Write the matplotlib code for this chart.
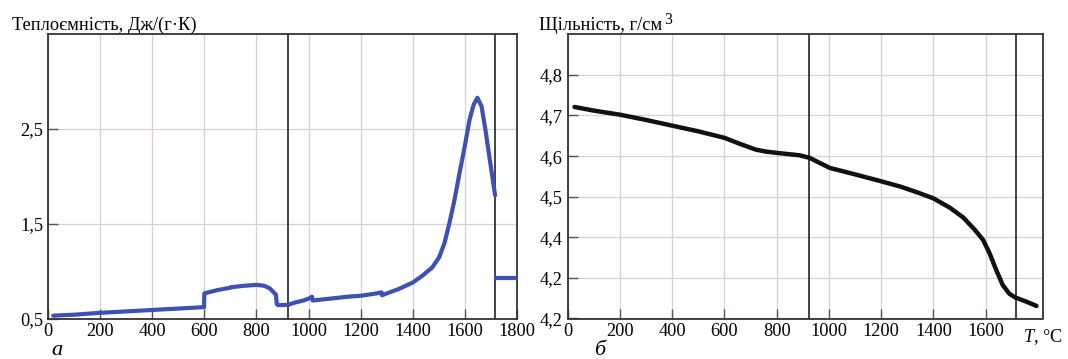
import matplotlib
matplotlib.use("Agg")
import matplotlib.pyplot as plt

plt.rcParams['font.family'] = ['Liberation Serif', 'DejaVu Serif']
plt.rcParams['mathtext.fontset'] = 'custom'
plt.rcParams['mathtext.rm'] = 'Liberation Serif'
plt.rcParams['mathtext.it'] = 'Liberation Serif:italic'

# ---- data: heat capacity (left panel) ----
cp_T = [20, 100, 200, 300, 400, 500, 599, 600, 650, 700, 702, 750, 800, 830, 850,
        865, 875, 878, 885, 922, 950, 980, 1005, 1013, 1016, 1050, 1100, 1150, 1200,
        1250, 1280, 1282, 1300, 1345, 1400, 1436, 1475, 1501, 1521, 1540, 1560,
        1579, 1599, 1618, 1634, 1648, 1664, 1679, 1696, 1716]
cp_val = [0.53, 0.54, 0.56, 0.575, 0.59, 0.605, 0.62, 0.765, 0.80, 0.825, 0.83,
          0.845, 0.855, 0.845, 0.82, 0.78, 0.75, 0.65, 0.64, 0.645, 0.67, 0.69,
          0.715, 0.73, 0.69, 0.70, 0.715, 0.73, 0.74, 0.76, 0.775, 0.745, 0.765,
          0.81, 0.88, 0.95, 1.04, 1.145, 1.29, 1.50, 1.75, 2.03, 2.31, 2.60, 2.76,
          2.83, 2.74, 2.49, 2.17, 1.80]
cp_liq_T = [1718, 1800]
cp_liq_val = [0.93, 0.93]

# ---- data: density (right panel) ----
rho_T = [26, 100, 200, 300, 400, 500, 600, 660, 720, 760, 800, 887, 925, 1003,
         1100, 1200, 1273, 1337, 1400, 1463, 1514, 1558, 1590, 1615, 1641, 1666,
         1691, 1713, 1754, 1795]
rho_val = [4.721, 4.712, 4.702, 4.689, 4.675, 4.661, 4.645, 4.630, 4.616, 4.611,
           4.608, 4.602, 4.596, 4.571, 4.555, 4.538, 4.525, 4.511, 4.496, 4.473,
           4.449, 4.419, 4.394, 4.361, 4.319, 4.282, 4.261, 4.252, 4.242, 4.231]

transitions = [922, 1716]

left_xticks = [0, 200, 400, 600, 800, 1000, 1200, 1400, 1600, 1800]
left_xlabels = ['0', '200', '400', '600', '800', '1000', '1200', '1400', '1600', '1800']
left_yticks = [0.5, 1.5, 2.5]
left_ylabels = ['0,5', '1,5', '2,5']

right_xticks = [0, 200, 400, 600, 800, 1000, 1200, 1400, 1600]
right_xlabels = ['0', '200', '400', '600', '800', '1000', '1200', '1400', '1600']
right_yticks = [4.2, 4.3, 4.4, 4.5, 4.6, 4.7, 4.8]
right_ylabels = ['4,2', '4,2', '4,4', '4,5', '4,6', '4,7', '4,8']

W, H = 1068, 359
fig = plt.figure(figsize=(W / 100, H / 100), dpi=100)

def px_axes(x0, x1, ytop, ybot):
    return fig.add_axes([x0 / W, 1 - ybot / H, (x1 - x0) / W, (ybot - ytop) / H])

ax1 = px_axes(48, 517, 34.3, 318.5)
ax2 = px_axes(567.7, 1043.3, 34.3, 318.5)

grid_c = '#dccfcf'
spine_c = '#333333'
fs = 13.2

for ax in (ax1, ax2):
    for s in ax.spines.values():
        s.set_color(spine_c)
        s.set_linewidth(1.3)
    ax.tick_params(direction='in', length=7, width=1.0, color='#555555',
                   labelsize=fs, pad=3.5)
    ax.grid(True, color=grid_c, linewidth=0.9)
    ax.set_axisbelow(True)
    for t in transitions:
        ax.axvline(t, color='#222222', linewidth=1.2, zorder=2)

# left panel
blue = '#3f50b5'
ax1.plot(cp_T, cp_val, color=blue, linewidth=3.0, zorder=3,
         solid_capstyle='round', solid_joinstyle='round')
ax1.plot(cp_liq_T, cp_liq_val, color=blue, linewidth=3.0, zorder=3)
ax1.set_xlim(0, 1800)
ax1.set_ylim(0.5, 3.5)
ax1.set_xticks(left_xticks)
ax1.set_xticklabels(left_xlabels)
ax1.set_yticks(left_yticks)
ax1.set_yticklabels(left_ylabels)

# right panel
ax2.plot(rho_T, rho_val, color='#111111', linewidth=3.2, zorder=3,
         solid_capstyle='round', solid_joinstyle='round')
ax2.set_xlim(0, 1821)
ax2.set_ylim(4.2, 4.9)
ax2.set_xticks(right_xticks)
ax2.set_xticklabels(right_xlabels)
ax2.set_yticks(right_yticks)
ax2.set_yticklabels(right_ylabels)
ax2.text(1.0, -0.03, '$T$, °C', transform=ax2.transAxes, ha='center', va='top',
         fontsize=fs)

# titles
fig.text(12 / W, 1 - 30 / H, 'Теплоємність, Дж/(г·К)', fontsize=fs,
         ha='left', va='baseline')
t2 = fig.text(539 / W, 1 - 30 / H, 'Щільність, г/см', fontsize=fs,
              ha='left', va='baseline')
fig.canvas.draw()
bb = t2.get_window_extent()
fig.text((bb.x1 + 1.5) / W, 1 - 24 / H, '3', fontsize=fs * 0.85,
         ha='left', va='baseline')

# panel letters (cut at the bottom edge, as in the reference)
fig.text(57 / W, 1 - 341 / H, 'а', fontsize=16, style='italic', ha='center', va='top')
fig.text(600 / W, 1 - 341 / H, 'б', fontsize=16, style='italic', ha='center', va='top')

fig.savefig('out.png', dpi=100)
